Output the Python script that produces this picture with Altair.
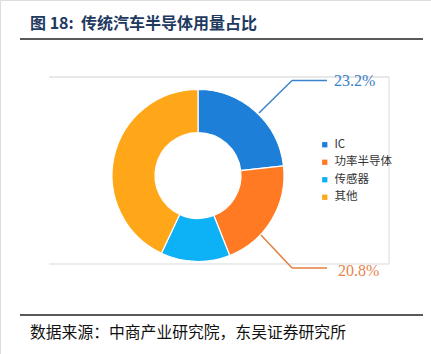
import altair as alt
import pandas as pd

names = ["IC", "功率半导体", "传感器", "其他"]
values = [23.2, 20.8, 13.0, 43.0]
colors = ["#1E7FD8", "#FF7A22", "#0DB1F5", "#FFA718"]
order = [0, 1, 2, 3]

title_head = "图 18:"
title_body = "传统汽车半导体用量占比"
source_text = "数据来源：中商产业研究院，东吴证券研究所"

df = pd.DataFrame({"name": names, "value": values, "idx": order})

CX, CY = 198, 175.5

base = alt.Chart(df)

arcs = base.mark_arc(innerRadius=43, outerRadius=86, stroke="white", strokeWidth=1.2).encode(
    theta=alt.Theta("value:Q", stack=True),
    order=alt.Order("idx:Q"),
    color=alt.Color(
        "name:N",
        scale=alt.Scale(domain=names, range=colors),
        sort=names,
        legend=alt.Legend(
            title=None,
            orient="none",
            legendX=319,
            legendY=139,
            symbolType="square",
            symbolSize=28,
            symbolStrokeWidth=0,
            labelFont="Noto Sans CJK SC",
            labelFontSize=11.5,
            labelColor="#333333",
            rowPadding=4.5,
            labelOffset=4,
            padding=0,
        ),
    ),
    x=alt.value(CX),
    y=alt.value(CY),
)

def one():
    return alt.Data(values=[{"a": 1}])

def rule(x1, x2, y1, y2, color, w):
    return alt.Chart(one()).mark_rule(color=color, strokeWidth=w).encode(
        x=alt.value(x1), x2=alt.value(x2), y=alt.value(y1), y2=alt.value(y2)
    )

# frame lines of the plot region
frame_top = rule(49, 389, 77, 77, "#D0D0D0", 1)
frame_bot = rule(49, 389, 264, 264, "#D9D9D9", 1)
frame_right = rule(389, 389, 77, 264, "#D9D9D9", 1)

# page rules
head_rule = rule(20, 423, 39, 39, "#222222", 1.6)
foot_rule = rule(20, 423, 315, 315, "#222222", 1.6)

# leader lines
blue_l1 = rule(259, 292, 113, 80.5, "#3A84CC", 1.5)
blue_l2 = rule(292, 327, 80.5, 80.5, "#3A84CC", 1.5)
orange_l1 = rule(261, 292, 235, 268, "#E2803F", 1.5)
orange_l2 = rule(292, 327, 268, 268, "#E2803F", 1.5)

lab = base.transform_calculate(label="format(datum.value, '.1f') + '%'")

lab_ic = lab.transform_filter(alt.datum.name == "IC").mark_text(
    font="Liberation Serif", fontSize=16, color="#3A80C8", align="left", baseline="middle"
).encode(text="label:N", x=alt.value(334), y=alt.value(81))

lab_pw = lab.transform_filter(alt.datum.name == "功率半导体").mark_text(
    font="Liberation Serif", fontSize=16, color="#E8834A", align="left", baseline="middle"
).encode(text="label:N", x=alt.value(338), y=alt.value(271))

title1 = alt.Chart(one()).mark_text(
    font="Noto Sans CJK SC", fontSize=16, fontWeight="bold", color="#1F3A5F",
    align="left", baseline="middle"
).encode(text=alt.value(title_head), x=alt.value(30), y=alt.value(24))

title2 = alt.Chart(one()).mark_text(
    font="Noto Sans CJK SC", fontSize=16, fontWeight="bold", color="#1F3A5F",
    align="left", baseline="middle"
).encode(text=alt.value(title_body), x=alt.value(81), y=alt.value(24))

source = alt.Chart(one()).mark_text(
    font="Noto Sans CJK SC", fontSize=15.8, color="#111111",
    align="left", baseline="middle"
).encode(text=alt.value(source_text), x=alt.value(30), y=alt.value(333))

chart = alt.layer(
    frame_top, frame_bot, frame_right, head_rule, foot_rule,
    arcs, blue_l1, blue_l2, orange_l1, orange_l2, lab_ic, lab_pw, title1, title2, source
).properties(
    width=431, height=354, padding=0, autosize=alt.AutoSizeParams(type="none")
).configure_view(stroke=None).configure(background="white")

chart.save("out.html", embed_options={"renderer": "svg", "actions": False})
